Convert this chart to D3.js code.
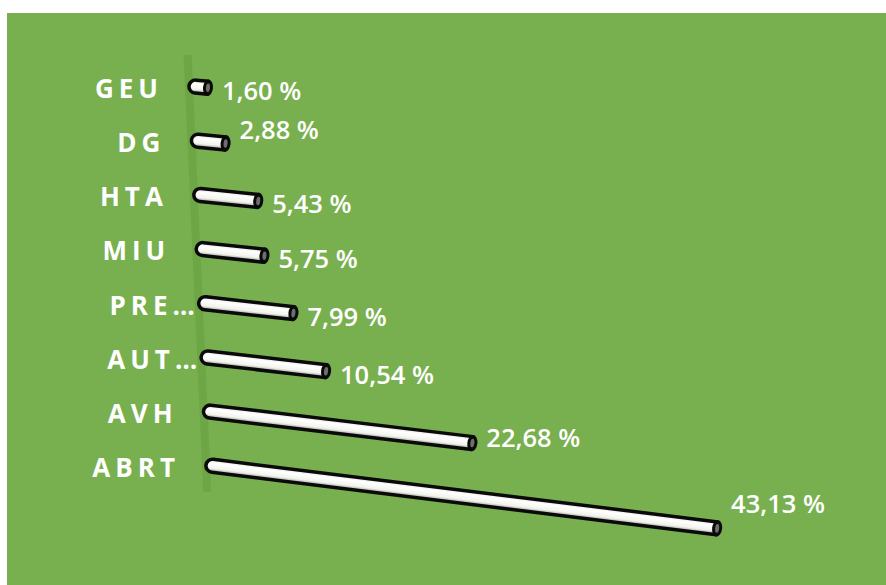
<!DOCTYPE html>
<html>
<head>
<meta charset="utf-8">
<script src="https://cdn.jsdelivr.net/npm/d3@7"></script>
<style>
  html, body { margin: 0; padding: 0; background: #fff; }
  svg { display: block; }
</style>
</head>
<body>
<svg id="chart" width="886" height="585"></svg>
<script>
// --- data ---
const categories = ["GEU", "DG", "HTA", "MIU", "PRE…", "AUT…", "AVH", "ABRT"];
const values = [1.6, 2.88, 5.43, 5.75, 7.99, 10.54, 22.68, 43.13];
const valueLabels = ["1,60 %", "2,88 %", "5,43 %", "5,75 %", "7,99 %", "10,54 %", "22,68 %", "43,13 %"];

// --- setup ---
const svg = d3.select("#chart");
const W = 886, H = 585;

svg.append("rect").attr("x", 7).attr("y", 13).attr("width", W - 7).attr("height", H - 13)
  .attr("fill", "#79b04f");

const defs = svg.append("defs");
const grad = defs.append("linearGradient").attr("id", "cyl")
  .attr("x1", 0).attr("y1", 0).attr("x2", 0).attr("y2", 1);
grad.append("stop").attr("offset", "0%").attr("stop-color", "#dfe3da");
grad.append("stop").attr("offset", "30%").attr("stop-color", "#ffffff");
grad.append("stop").attr("offset", "70%").attr("stop-color", "#f1f3ec");
grad.append("stop").attr("offset", "100%").attr("stop-color", "#8d908a");

// scales (perspective-ish: axis leans, lower rows tilt more)
const y = d3.scalePoint().domain(categories).range([86, 465]);
const axisX = d3.scaleLinear().domain([86, 465]).range([189, 206]);
const len = d3.scaleLinear().domain([0, 45]).range([4, 4 + 45 * 11.85]);
const slope = d3.scaleLinear().domain([0, categories.length - 1]).range([0.095, 0.124]);

// axis wall line
svg.append("line")
  .attr("x1", axisX(55)).attr("y1", 55)
  .attr("x2", axisX(492)).attr("y2", 492)
  .attr("stroke", "#64a040").attr("stroke-opacity", 0.6)
  .attr("stroke-width", 8);

const h = 13; // cylinder thickness
const labelLift = { "DG": 17, "AVH": 9, "ABRT": 28 };

categories.forEach((c, i) => {
  const y0 = y(c);
  const x0 = axisX(y0);
  const s = slope(i);
  const dx = len(values[i]);
  const L = dx * Math.sqrt(1 + s * s);
  const ang = Math.atan(s) * 180 / Math.PI;
  const xe = x0 + dx, ye = y0 + dx * s;

  const g = svg.append("g").attr("transform", `translate(${x0},${y0}) rotate(${ang})`);
  const r = h / 2;
  g.append("path")
    .attr("d", `M${r},${-r} L${L - 4},${-r} L${L - 4},${r} L${r},${r} A${r},${r} 0 0 1 ${r},${-r} Z`)
    .attr("fill", "url(#cyl)")
    .attr("stroke", "#0a0a0a").attr("stroke-width", 3.5).attr("stroke-linejoin", "round");
  g.append("ellipse").attr("cx", L - 4).attr("cy", 0).attr("rx", 5).attr("ry", r + 1.7)
    .attr("fill", "#0a0a0a");
  g.append("ellipse").attr("cx", L - 4).attr("cy", 0).attr("rx", 2).attr("ry", r - 2.2)
    .attr("fill", "#6d6f6b");

  // category label
  const trunc = c.endsWith("…");
  const ls = 5;
  svg.append("text")
    .attr("x", (trunc ? x0 - 4 : x0 - 31) + ls)
    .attr("y", y0 + 2)
    .attr("text-anchor", "end")
    .attr("dominant-baseline", "central")
    .attr("font-family", "'Open Sans', sans-serif")
    .attr("font-weight", 700)
    .attr("font-size", 26)
    .attr("letter-spacing", ls)
    .attr("fill", "#ffffff")
    .text(c);

  // value label
  svg.append("text")
    .attr("x", xe + 10)
    .attr("y", ye + 2 - (labelLift[c] || 0))
    .attr("dominant-baseline", "central")
    .attr("font-family", "'Open Sans', sans-serif")
    .attr("font-weight", 600)
    .attr("font-size", 25.5)
    .attr("fill", "#ffffff")
    .text(valueLabels[i]);
});
</script>
</body>
</html>
